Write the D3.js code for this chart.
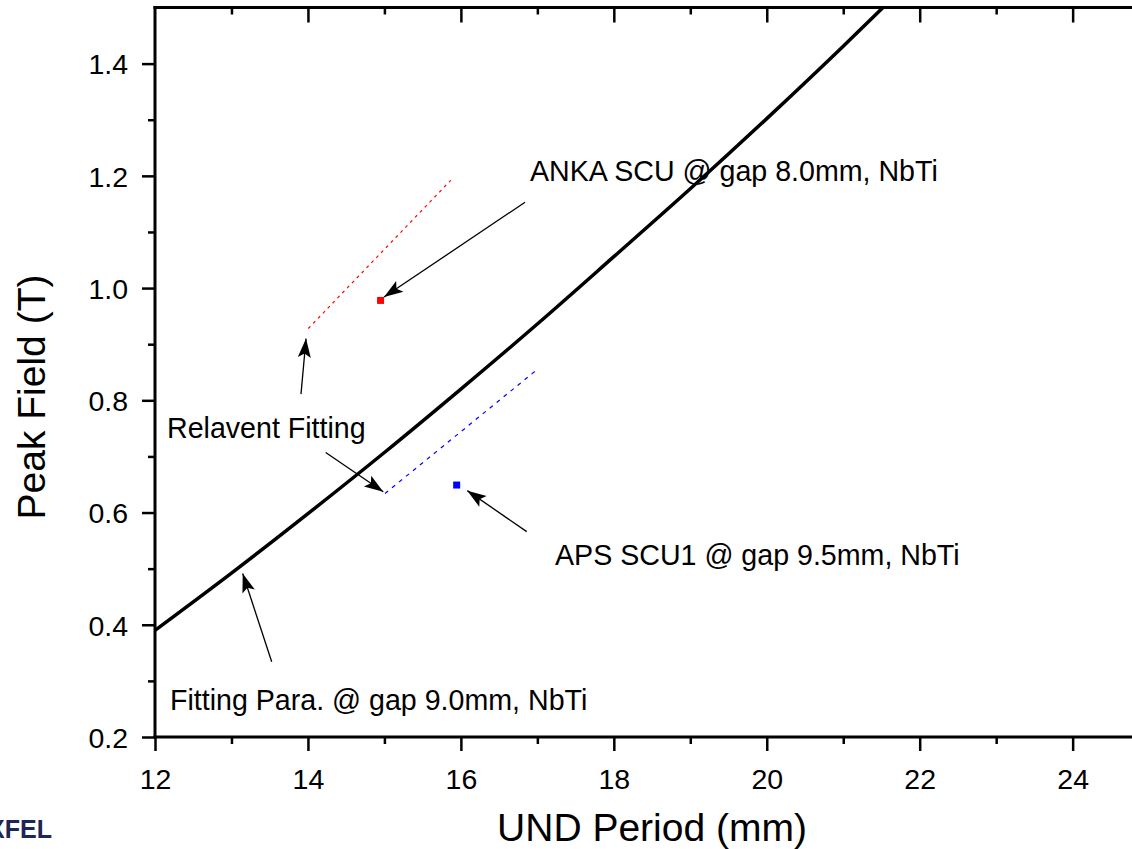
<!DOCTYPE html>
<html>
<head>
<meta charset="utf-8">
<script src="https://cdn.jsdelivr.net/npm/d3@7/dist/d3.min.js"></script>
<style>
  html, body { margin: 0; padding: 0; background: #fff; overflow: hidden; }
  svg { display: block; font-family: "Liberation Sans", Arial, sans-serif; }
</style>
</head>
<body>
<svg id="chart" width="1132" height="849"></svg>
<script>
// ---- Data ----
const curveX = [12.0, 13.0, 14.0, 15.0, 16.0, 17.0, 18.0, 19.0, 20.0, 21.0, 21.52];
const curveY = [0.390, 0.492, 0.598, 0.707, 0.820, 0.936, 1.056, 1.177, 1.302, 1.431, 1.500];

const ankaPoint = [14.95, 0.978];
const apsPoint = [15.945, 0.649];

const redFitX = [14.005, 15.867];
const redFitY = [0.928, 1.192];
const blueFitX = [15.008, 16.99];
const blueFitY = [0.634, 0.854];

const xMajorTicks = [12, 14, 16, 18, 20, 22, 24];
const xMinorTicks = [13, 15, 17, 19, 21, 23];
const yMajorTicks = [0.2, 0.4, 0.6, 0.8, 1.0, 1.2, 1.4];
const yMinorTicks = [0.3, 0.5, 0.7, 0.9, 1.1, 1.3];

const labelTexts = ["ANKA SCU @ gap 8.0mm, NbTi", "APS SCU1 @ gap 9.5mm, NbTi", "Relavent Fitting", "Fitting Para. @ gap 9.0mm, NbTi"];
const labelX = [16.904, 17.231, 12.157, 12.196];
const labelY = [1.191, 0.506, 0.7325, 0.248];

// arrows: tail (x1,y1) -> tip (x2,y2)
const arrowX1 = [16.839, 16.861, 13.909, 14.232, 13.526];
const arrowY1 = [1.153, 0.566, 0.811, 0.707, 0.334];
const arrowX2 = [14.995, 16.084, 13.975, 14.985, 13.147];
const arrowY2 = [0.984, 0.639, 0.910, 0.637, 0.4915];

(function () {
// ---- Layout ----
const svg = d3.select("#chart");
const mLeft = 155, mBottom = 737, mTop = 7.5, mRight = 155 + 13 * 76.47;
const x = d3.scaleLinear().domain([12, 25]).range([mLeft, mRight]);
const y = d3.scaleLinear().domain([0.2, 1.5]).range([mBottom, mTop]);

const defs = svg.append("defs");
defs.append("clipPath").attr("id", "plotclip")
  .append("rect").attr("x", mLeft).attr("y", mTop).attr("width", mRight - mLeft).attr("height", mBottom - mTop);
defs.append("marker")
  .attr("id", "arrowhead")
  .attr("markerUnits", "userSpaceOnUse")
  .attr("viewBox", "-20 -8 22 16")
  .attr("refX", 0).attr("refY", 0)
  .attr("markerWidth", 22).attr("markerHeight", 16)
  .attr("orient", "auto")
  .append("path")
  .attr("d", "M0,0 L-19,-6.5 L-15,0 L-19,6.5 Z")
  .attr("fill", "#000");

// ---- Axes ----
const fmt = d3.format(".1f");
function styleAxis(g) {
  g.select(".domain").remove();
  g.selectAll(".tick line").attr("stroke", "#000").attr("stroke-width", 2.5);
  g.selectAll(".tick text").attr("fill", "#000").attr("font-size", 28.5)
    .attr("font-family", "'Liberation Sans', Arial, sans-serif");
}

svg.append("g").attr("transform", `translate(0,${mBottom})`)
  .call(d3.axisBottom(x).tickValues(xMajorTicks).tickSize(14).tickPadding(18).tickFormat(d3.format("d")))
  .call(styleAxis);
svg.append("g").attr("transform", `translate(0,${mBottom})`)
  .call(d3.axisBottom(x).tickValues(xMinorTicks).tickSize(7).tickFormat(""))
  .call(styleAxis);
svg.append("g").attr("transform", `translate(0,${mTop})`)
  .call(d3.axisTop(x).tickValues(xMajorTicks.filter(d => d > 12)).tickSize(-15).tickFormat(""))
  .call(styleAxis);
svg.append("g").attr("transform", `translate(0,${mTop})`)
  .call(d3.axisTop(x).tickValues(xMinorTicks).tickSize(-7).tickFormat(""))
  .call(styleAxis);
svg.append("g").attr("transform", `translate(${mLeft},0)`)
  .call(d3.axisLeft(y).tickValues(yMajorTicks).tickSize(13).tickPadding(14).tickFormat(fmt))
  .call(styleAxis)
  .selectAll(".tick text").attr("dy", "0.36em");
svg.append("g").attr("transform", `translate(${mLeft},0)`)
  .call(d3.axisLeft(y).tickValues(yMinorTicks).tickSize(7).tickFormat(""))
  .call(styleAxis);

// frame lines
svg.append("line").attr("x1", mLeft).attr("x2", mLeft).attr("y1", mTop - 1.5).attr("y2", mBottom + 1.5)
  .attr("stroke", "#000").attr("stroke-width", 3);
svg.append("line").attr("x1", mLeft - 1.5).attr("x2", mRight).attr("y1", mBottom).attr("y2", mBottom)
  .attr("stroke", "#000").attr("stroke-width", 3);
svg.append("line").attr("x1", mLeft - 1.5).attr("x2", mRight).attr("y1", mTop).attr("y2", mTop)
  .attr("stroke", "#000").attr("stroke-width", 3);

// axis titles
svg.append("text").attr("x", 652).attr("y", 841).attr("text-anchor", "middle")
  .attr("font-size", 39).attr("fill", "#000").text("UND Period (mm)");
svg.append("text").attr("transform", "translate(45,397) rotate(-90)").attr("text-anchor", "middle")
  .attr("font-size", 39).attr("fill", "#000").text("Peak Field (T)");

// ---- Plot content ----
const plot = svg.append("g").attr("clip-path", "url(#plotclip)");

const line = d3.line().x(i => x(curveX[i])).y(i => y(curveY[i])).curve(d3.curveMonotoneX);
plot.append("path").attr("d", line(d3.range(curveX.length)))
  .attr("fill", "none").attr("stroke", "#000").attr("stroke-width", 3.5);

plot.append("line")
  .attr("x1", x(redFitX[0])).attr("y1", y(redFitY[0]))
  .attr("x2", x(redFitX[1])).attr("y2", y(redFitY[1]))
  .attr("stroke", "#ff0000").attr("stroke-width", 1.2).attr("stroke-dasharray", "3,4");
plot.append("line")
  .attr("x1", x(blueFitX[0])).attr("y1", y(blueFitY[0]))
  .attr("x2", x(blueFitX[1])).attr("y2", y(blueFitY[1]))
  .attr("stroke", "#0000ff").attr("stroke-width", 1.2).attr("stroke-dasharray", "4,5");

const sq = 7;
plot.append("rect").attr("x", x(ankaPoint[0]) - sq / 2).attr("y", y(ankaPoint[1]) - sq / 2)
  .attr("width", sq).attr("height", sq).attr("fill", "#ff0000");
plot.append("rect").attr("x", x(apsPoint[0]) - sq / 2).attr("y", y(apsPoint[1]) - sq / 2)
  .attr("width", sq).attr("height", sq).attr("fill", "#0000ff");

plot.selectAll("line.arrow").data(d3.range(arrowX1.length)).enter()
  .append("line").attr("class", "arrow")
  .attr("x1", i => x(arrowX1[i])).attr("y1", i => y(arrowY1[i]))
  .attr("x2", i => x(arrowX2[i])).attr("y2", i => y(arrowY2[i]))
  .attr("stroke", "#000").attr("stroke-width", 1.3)
  .attr("marker-end", "url(#arrowhead)");

svg.selectAll("text.anno").data(d3.range(labelTexts.length)).enter()
  .append("text").attr("class", "anno")
  .attr("x", i => x(labelX[i])).attr("y", i => y(labelY[i]))
  .attr("font-size", 28.6).attr("fill", "#000")
  .text(i => labelTexts[i]);

svg.append("text").attr("x", 52).attr("y", 838).attr("text-anchor", "end")
  .attr("font-size", 25).attr("font-weight", "bold").attr("fill", "#1d2657").text("XFEL");
})();
</script>
</body>
</html>
